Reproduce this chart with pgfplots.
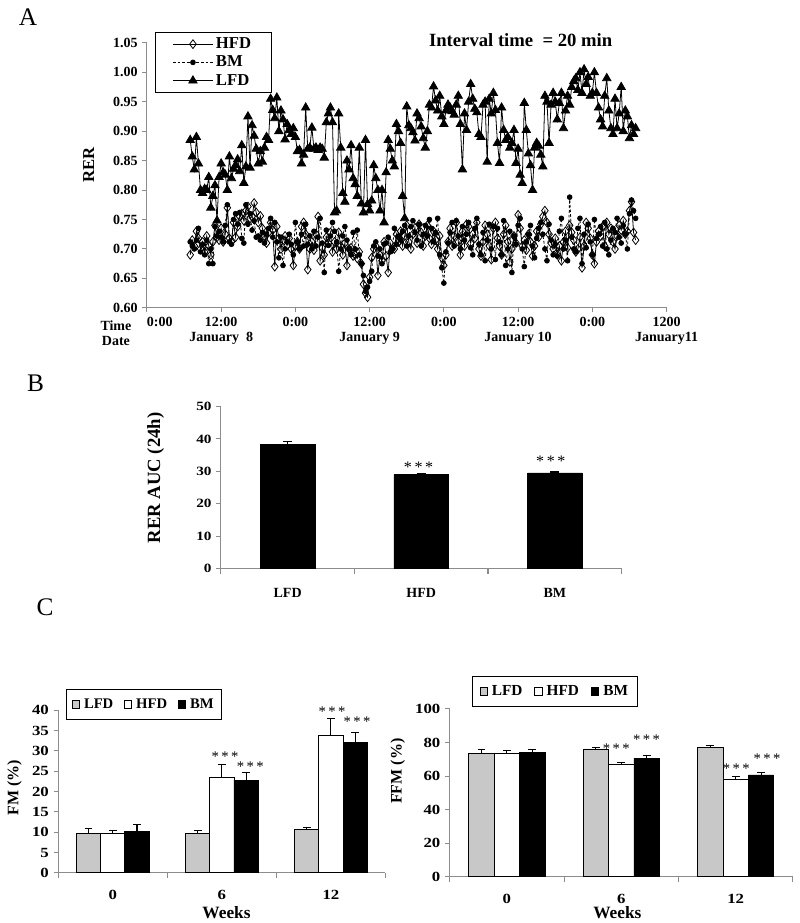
\documentclass[border=0pt]{standalone}
\usepackage{fontspec}
\setmainfont{Liberation Serif}
\usepackage{graphicx}
\usepackage{pgfplots}
\usepackage{pgfplotstable}
\pgfplotsset{compat=1.18}
\definecolor{lfdgray}{RGB}{200,200,200}
\definecolor{axgray}{RGB}{140,140,140}
\newcommand{\fs}[1]{\fontsize{#1}{#1}\selectfont}
\newcommand{\wideC}[1]{\scalebox{1.2}[1]{#1}}

% RER every 20 min, starting at 7:00 on January 8 (columns: LFD HFD BM)
\pgfplotstableread{
lfd hfd bm
0.885 0.690 0.712
0.857 0.715 0.705
0.835 0.705 0.700
0.890 0.730 0.715
0.845 0.718 0.735
0.800 0.700 0.695
0.795 0.712 0.708
0.802 0.695 0.690
0.800 0.722 0.715
0.822 0.705 0.675
0.770 0.690 0.700
0.790 0.712 0.675
0.808 0.740 0.738
0.748 0.720 0.722
0.822 0.715 0.730
0.845 0.735 0.720
0.830 0.712 0.712
0.826 0.725 0.740
0.800 0.770 0.775
0.857 0.718 0.712
0.820 0.712 0.708
0.836 0.745 0.750
0.842 0.720 0.760
0.852 0.738 0.742
0.832 0.755 0.762
0.876 0.760 0.718
0.812 0.748 0.710
0.840 0.765 0.775
0.925 0.772 0.742
0.838 0.752 0.760
0.910 0.755 0.732
0.892 0.778 0.748
0.870 0.762 0.720
0.845 0.745 0.722
0.866 0.756 0.715
0.848 0.735 0.728
0.872 0.722 0.710
0.890 0.710 0.725
0.885 0.728 0.735
0.955 0.745 0.752
0.936 0.732 0.720
0.922 0.670 0.745
0.957 0.738 0.712
0.900 0.718 0.685
0.935 0.700 0.720
0.920 0.715 0.672
0.886 0.722 0.700
0.912 0.706 0.712
0.902 0.718 0.725
0.895 0.700 0.708
0.905 0.672 0.690
0.890 0.705 0.745
0.866 0.712 0.712
0.868 0.700 0.700
0.845 0.738 0.725
0.860 0.745 0.705
0.940 0.725 0.742
0.870 0.665 0.708
0.872 0.700 0.722
0.906 0.712 0.700
0.870 0.698 0.730
0.872 0.725 0.705
0.868 0.755 0.720
0.872 0.680 0.752
0.870 0.702 0.710
0.855 0.690 0.660
0.915 0.720 0.732
0.930 0.710 0.706
0.940 0.728 0.722
0.915 0.695 0.745
0.762 0.712 0.730
0.765 0.700 0.712
0.930 0.728 0.662
0.872 0.705 0.700
0.795 0.690 0.722
0.780 0.710 0.738
0.850 0.672 0.715
0.835 0.700 0.700
0.876 0.702 0.690
0.820 0.688 0.728
0.810 0.690 0.700
0.790 0.684 0.732
0.872 0.695 0.690
0.777 0.675 0.675
0.762 0.640 0.655
0.885 0.625 0.628
0.776 0.618 0.635
0.765 0.652 0.645
0.782 0.685 0.662
0.842 0.700 0.705
0.820 0.705 0.712
0.800 0.655 0.688
0.765 0.690 0.700
0.800 0.680 0.675
0.745 0.712 0.708
0.830 0.688 0.710
0.885 0.660 0.720
0.870 0.710 0.695
0.850 0.700 0.700
0.840 0.700 0.735
0.912 0.725 0.708
0.900 0.712 0.722
0.880 0.730 0.715
0.790 0.705 0.730
0.752 0.722 0.740
0.942 0.740 0.705
0.910 0.712 0.722
0.905 0.700 0.738
0.898 0.725 0.748
0.884 0.736 0.728
0.930 0.710 0.715
0.922 0.742 0.742
0.908 0.728 0.705
0.888 0.705 0.725
0.872 0.722 0.740
0.900 0.740 0.722
0.945 0.718 0.750
0.940 0.708 0.735
0.976 0.730 0.712
0.952 0.715 0.728
0.935 0.700 0.752
0.960 0.722 0.690
0.925 0.685 0.668
0.912 0.672 0.642
0.935 0.690 0.695
0.945 0.712 0.710
0.940 0.735 0.728
0.934 0.705 0.745
0.928 0.722 0.705
0.945 0.745 0.748
0.960 0.712 0.722
0.912 0.690 0.700
0.835 0.730 0.738
0.930 0.705 0.715
0.902 0.742 0.725
0.950 0.738 0.745
0.980 0.710 0.702
0.955 0.725 0.690
0.938 0.718 0.735
0.932 0.745 0.752
0.895 0.700 0.708
0.890 0.688 0.690
0.945 0.712 0.728
0.950 0.740 0.680
0.848 0.725 0.715
0.955 0.705 0.742
0.930 0.682 0.700
0.965 0.735 0.738
0.936 0.745 0.682
0.880 0.718 0.735
0.846 0.705 0.712
0.940 0.690 0.690
0.902 0.725 0.748
0.885 0.740 0.672
0.890 0.712 0.700
0.872 0.678 0.730
0.880 0.700 0.660
0.902 0.722 0.722
0.846 0.710 0.708
0.870 0.758 0.740
0.826 0.735 0.752
0.812 0.705 0.700
0.948 0.715 0.670
0.902 0.698 0.712
0.862 0.725 0.725
0.842 0.712 0.740
0.800 0.688 0.705
0.872 0.705 0.685
0.880 0.730 0.718
0.875 0.720 0.735
0.860 0.742 0.745
0.840 0.755 0.725
0.960 0.765 0.700
0.950 0.745 0.680
0.880 0.725 0.742
0.945 0.710 0.715
0.965 0.700 0.690
0.950 0.718 0.708
0.920 0.690 0.688
0.948 0.705 0.730
0.965 0.680 0.752
0.905 0.712 0.700
0.935 0.730 0.715
0.960 0.702 0.680
0.945 0.740 0.788
0.975 0.728 0.720
0.985 0.715 0.700
0.990 0.695 0.695
0.970 0.700 0.735
1.000 0.720 0.752
0.965 0.668 0.675
1.005 0.705 0.725
0.980 0.745 0.702
0.992 0.735 0.742
0.960 0.718 0.712
0.965 0.690 0.690
1.000 0.675 0.750
0.965 0.712 0.718
0.940 0.730 0.725
0.920 0.722 0.738
0.908 0.738 0.705
0.960 0.705 0.745
0.990 0.745 0.700
0.935 0.725 0.690
0.905 0.735 0.715
0.895 0.712 0.735
0.955 0.700 0.728
0.905 0.722 0.752
0.930 0.740 0.720
0.975 0.732 0.710
0.900 0.748 0.740
0.935 0.725 0.725
0.925 0.730 0.700
0.888 0.765 0.760
0.910 0.780 0.783
0.895 0.728 0.765
0.905 0.715 0.752
}\rerdata

\pgfplotsset{
  panel/.style={scale only axis, anchor=south west,
    axis x line*=bottom, axis y line*=left,
    axis line style={axgray, line width=0.8pt},
    tick style={axgray, line width=0.8pt},
    tick align=outside, major tick length=3.5pt,
    /pgf/number format/assume math mode=true,
    ticklabel style={font=\bfseries\fs{10.5}}, clip=false},
  barpanel/.style={panel, xmin=-0.5, xmax=2.5, xtick={0,1,2},
    major x tick style={draw=none},
    minor xtick={-0.5,0.5,1.5,2.5}, minor tick length=4pt},
  errs/.style={error bars/.cd, y dir=plus, y explicit,
    error bar style={black, line width=0.8pt},
    error mark options={black, rotate=90, mark size=#1, line width=0.8pt}},
  sq/.style={legend image code/.code={\draw[fill=#1,draw=black,line width=0.6pt] (0pt,-2.8pt) rectangle (5.6pt,2.8pt);}},
}

\begin{document}
\begin{tikzpicture}
\path (0,0) rectangle (600pt,692.25pt);

% ---------------- Panel A ----------------
\node[font=\fs{19}] at (21pt,679.5pt) {A};
\begin{axis}[panel, at={(110.25pt,461.25pt)}, width=390pt, height=198.75pt,
  xmin=0, xmax=84, ymin=0.6, ymax=1.05,
  xtick={0,12,24,36,48,60,72,84},
  xticklabels={\makebox[0pt][l]{0:00}, 12:00\\January\ \ 8, 0:00, 12:00\\January 9, 0:00, 12:00\\January 10, 0:00, 1200\\January11},
  xticklabel style={align=center, font=\bfseries\fontsize{10.5}{11.5}\selectfont},
  ytick={0.6,0.65,0.7,0.75,0.8,0.85,0.9,0.95,1.0,1.05},
  yticklabel style={/pgf/number format/.cd, fixed, fixed zerofill, precision=2},
  legend style={at={(0.015,1.042)}, anchor=north west, draw=black, line width=0.8pt,
    font=\bfseries\fs{12.5}, inner xsep=13pt, inner ysep=2pt, fill=white},
  legend cell align=left,
  legend image code/.code={\draw[mark repeat=2,mark phase=2,#1] plot coordinates {(0pt,0pt) (15pt,0pt) (30pt,0pt)};},
]
\addplot[black, line width=0.6pt, mark=diamond, mark size=3.3pt, mark options={solid, fill=white, line width=0.6pt}]
  table[x expr=7+\coordindex/3, y=hfd]{\rerdata};
\addlegendentry{HFD}
\addplot[black, line width=0.6pt, dash pattern=on 2pt off 1.5pt, mark=*, mark size=1.8pt, mark options={solid}]
  table[x expr=7+\coordindex/3, y=bm]{\rerdata};
\addlegendentry{BM}
\addplot[black, line width=0.6pt, mark=triangle*, mark size=3.6pt, mark options={solid}]
  table[x expr=7+\coordindex/3, y=lfd]{\rerdata};
\addlegendentry{LFD}
\end{axis}
\node[font=\bfseries\fs{14}] at (390.75pt,662.25pt) {Interval time\ \ = 20 min};
\node[font=\bfseries\fs{12.5}, rotate=90] at (66.6pt,568.5pt) {RER};
\node[font=\bfseries\fs{10.5}] at (87pt,447.75pt) {Time};
\node[font=\bfseries\fs{10.5}] at (87pt,436.5pt) {Date};

% ---------------- Panel B ----------------
\node[font=\fs{19}] at (26.6pt,404.25pt) {B};
\begin{axis}[barpanel, at={(165.75pt,265.5pt)}, width=300.75pt, height=121.7pt,
  ymin=0, ymax=50, ytick={0,10,20,30,40,50},
  yticklabel={\wideC{\pgfmathprintnumber{\tick}}},
  yticklabel style={font=\bfseries\fs{9.5}},
  xticklabels={LFD,HFD,BM}, xticklabel style={yshift=-8pt},
]
\addplot[ybar, bar shift=0pt, bar width=0.408, fill=black, draw=black, errs=3.4pt]
  coordinates {(0,38.2) +- (0,1.1) (1,29.0) +- (0,0.3) (2,29.5) +- (0,0.3)};
\node[font=\fs{12}] at (axis cs:0.98,31.2) {*\,*\,*};
\node[font=\fs{12}] at (axis cs:1.97,33.1) {*\,*\,*};
\end{axis}
\node[font=\bfseries\fs{14}, rotate=90] at (116.85pt,333.5pt) {RER AUC (24h)};

% ---------------- Panel C ----------------
\node[font=\fs{19}] at (33.75pt,236.25pt) {C};
\begin{axis}[barpanel, at={(43.7pt,37.2pt)}, width=245.6pt, height=122pt,
  ymin=0, ymax=40, ytick={0,5,10,15,20,25,30,35,40},
  yticklabel={\wideC{\pgfmathprintnumber{\tick}}},
  xticklabels={\wideC{0},\wideC{6},\wideC{12}}, xticklabel style={yshift=-6pt},
  legend columns=3,
  legend style={at={(0.0235,1.133)}, anchor=north west, draw=black, line width=0.75pt,
    font=\bfseries\fs{11}, inner xsep=4pt, inner ysep=5pt, column sep=1pt},
]
\addplot[ybar, bar shift=0pt, bar width=0.222, fill=lfdgray, draw=black, line width=0.6pt, sq=lfdgray, errs=2.9pt]
  coordinates {(-0.222,9.8) +- (0,1.0) (0.778,9.8) +- (0,0.6) (1.778,10.7) +- (0,0.4)};
\addlegendentry{LFD\hspace*{5pt}}
\addplot[ybar, bar shift=0pt, bar width=0.222, fill=white, draw=black, line width=0.6pt, sq=white, errs=2.9pt]
  coordinates {(0,9.8) +- (0,0.7) (1,23.6) +- (0,3.0) (2,33.9) +- (0,4.0)};
\addlegendentry{HFD\hspace*{5pt}}
\addplot[ybar, bar shift=0pt, bar width=0.222, fill=black, draw=black, line width=0.6pt, sq=black, errs=2.9pt]
  coordinates {(0.222,10.1) +- (0,1.7) (1.222,22.8) +- (0,2.0) (2.222,32.1) +- (0,2.5)};
\addlegendentry{BM}
\node[font=\fs{11}] at (axis cs:1.03,28.6) {*\,*\,*};
\node[font=\fs{11}] at (axis cs:1.26,26.0) {*\,*\,*};
\node[font=\fs{11}] at (axis cs:2.01,39.7) {*\,*\,*};
\node[font=\fs{11}] at (axis cs:2.24,37.2) {*\,*\,*};
\end{axis}
\node[font=\bfseries\fs{12}, rotate=90] at (10.9pt,101.25pt) {FM (\%)};
\node[font=\bfseries\fs{13}] at (170pt,7.5pt) {Weeks};

\begin{axis}[barpanel, at={(337.5pt,34.2pt)}, width=257.5pt, height=126pt,
  ymin=0, ymax=100, ytick={0,20,40,60,80,100},
  yticklabel={\wideC{\pgfmathprintnumber{\tick}}},
  xticklabels={\wideC{0},\wideC{6},\wideC{12}}, xticklabel style={yshift=-6pt},
  legend columns=3,
  legend style={at={(0.066,1.198)}, anchor=north west, draw=black, line width=0.75pt,
    font=\bfseries\fs{11.5}, inner xsep=5pt, inner ysep=5pt, column sep=1pt},
]
\addplot[ybar, bar shift=0pt, bar width=0.222, fill=lfdgray, draw=black, line width=0.6pt, sq=lfdgray, errs=2.9pt]
  coordinates {(-0.222,73.4) +- (0,2.4) (0.778,76.2) +- (0,1.0) (1.778,77.0) +- (0,1.2)};
\addlegendentry{LFD\hspace*{6pt}}
\addplot[ybar, bar shift=0pt, bar width=0.222, fill=white, draw=black, line width=0.6pt, sq=white, errs=2.9pt]
  coordinates {(0,73.8) +- (0,1.6) (1,66.9) +- (0,1.0) (2,58.3) +- (0,1.6)};
\addlegendentry{HFD\hspace*{6pt}}
\addplot[ybar, bar shift=0pt, bar width=0.222, fill=black, draw=black, line width=0.6pt, sq=black, errs=2.9pt]
  coordinates {(0.222,74.2) +- (0,1.6) (1.222,70.6) +- (0,1.6) (2.222,60.7) +- (0,1.6)};
\addlegendentry{BM}
\node[font=\fs{11}] at (axis cs:0.957,76.2) {*\,*\,*};
\node[font=\fs{11}] at (axis cs:1.22,81.5) {*\,*\,*};
\node[font=\fs{11}] at (axis cs:2.006,64.6) {*\,*\,*};
\node[font=\fs{11}] at (axis cs:2.275,70.6) {*\,*\,*};
\end{axis}
\node[font=\bfseries\fs{12}, rotate=90] at (298.5pt,113.5pt) {FFM (\%)};
\node[font=\bfseries\fs{13}] at (463.3pt,7.5pt) {Weeks};
\end{tikzpicture}
\end{document}
